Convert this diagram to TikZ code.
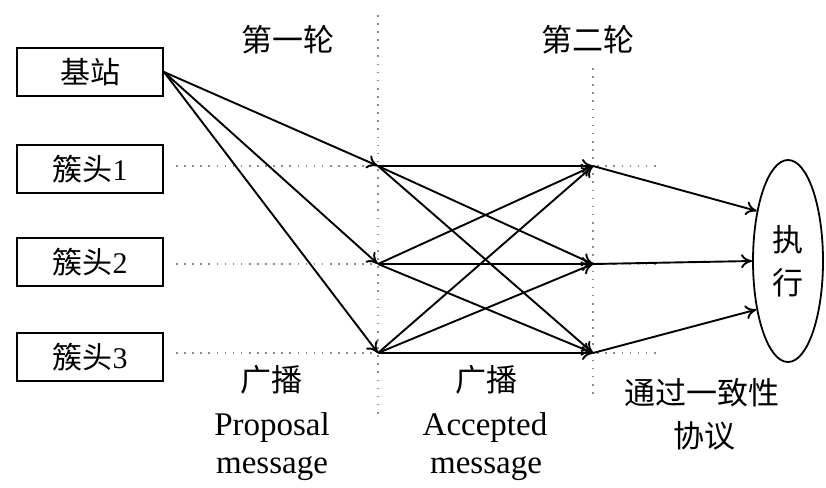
\documentclass[tikz,border=0pt]{standalone}
\usepackage{fontspec}
\setmainfont{Liberation Serif}
\newfontfamily\cjk{Noto Sans CJK SC}
\usetikzlibrary{shapes.geometric,arrows.meta}

\begin{document}
\begin{tikzpicture}[x=1pt,y=-1pt,
  box/.style={draw,line width=2pt,minimum width=146pt,minimum height=48pt,inner sep=0pt,
    font=\fontsize{30}{36}\selectfont},
  guide/.style={draw=gray!90,line width=1.8pt,dash pattern=on 1.6pt off 6.5pt},
  msg/.style={draw,line width=1.9pt,-{To[length=11pt,width=14pt]}},
  lbl/.style={inner sep=0pt,anchor=base,font=\fontsize{33}{38}\selectfont},
  zh/.style={inner sep=0pt,anchor=base,font=\cjk\fontsize{31}{38}\selectfont}]

% canvas
\fill[white] (0,0) rectangle (826,487);
\useasboundingbox (0,0) rectangle (826,487);

% senders
\node[box] (jz) at (90,72)  {{\cjk 基站}};
\node[box] (c1) at (90,169) {{\cjk 簇头}1};
\node[box] (c2) at (90,262) {{\cjk 簇头}2};
\node[box] (c3) at (90,357) {{\cjk 簇头}3};

% round one and round two receiving points
\coordinate (a1) at (378,166);
\coordinate (a2) at (378,264);
\coordinate (a3) at (378,353);
\coordinate (b1) at (593,166);
\coordinate (b2) at (593,264);
\coordinate (b3) at (593,353);

% dotted guides
\coordinate (v1t) at (378,15);  \coordinate (v1b) at (378,415);
\coordinate (v2t) at (593,68);  \coordinate (v2b) at (593,395);
\coordinate (r1e) at (660,166);
\coordinate (r2e) at (660,264);
\coordinate (r3e) at (660,353);
\draw[guide] (v1t) -- (v1b);
\draw[guide] (v2t) -- (v2b);
\draw[guide] ([xshift=12pt]c1.east |- a1) -- (r1e);
\draw[guide] ([xshift=12pt]c2.east |- a2) -- (r2e);
\draw[guide] ([xshift=12pt]c3.east |- a3) -- (r3e);

% executing node
\node[draw,ellipse,line width=1.8pt,minimum width=70pt,minimum height=202pt,inner sep=0pt,
  align=center,font=\cjk\fontsize{31}{43}\selectfont] (ex) at (788,261) {执\\行};

% round one: proposal broadcast
\draw[msg] (jz.east) -- (a1);
\draw[msg] (jz.east) -- (a2);
\draw[msg] (jz.east) -- (a3);

% round two: accepted broadcast
\foreach \s in {a1,a2,a3}{
  \foreach \t in {b1,b2,b3}{
    \draw[msg] (\s) -- (\t);
  }
}

% consensus to execution
\draw[msg] (b1) -- (ex.122);
\draw[msg] (b2) -- (ex.west);
\draw[msg] (b3) -- (ex.237);

% labels
\node[zh] (t1) at (288,52) {第一轮};
\node[zh] (t2) at (588,52) {第二轮};

\node[zh]  (g1) at (271,391) {广播};
\node[lbl] (p1) at (272,435) {Proposal};
\node[lbl] (m1) at (272,473) {message};

\node[zh]  (g2) at (486,391) {广播};
\node[lbl] (p2) at (485,435) {Accepted};
\node[lbl] (m2) at (486,473) {message};

\node[zh] (k1) at (702,404) {通过一致性};
\node[zh] (k2) at (704,447) {协议};
\end{tikzpicture}
\end{document}
